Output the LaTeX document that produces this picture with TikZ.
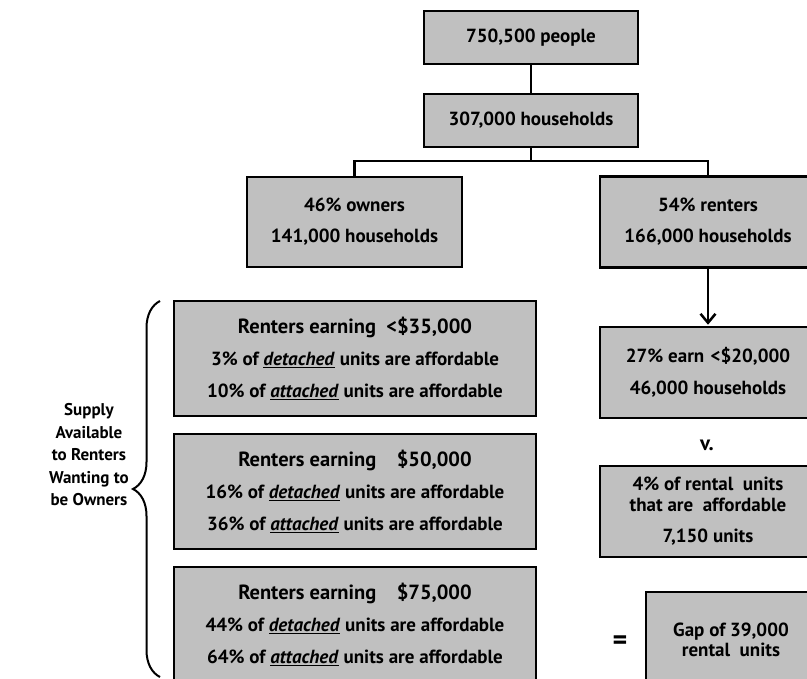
\documentclass[tikz,border=0pt]{standalone}
\usepackage{fontspec}
\setmainfont{PT Sans}
\usetikzlibrary{arrows.meta,decorations.pathreplacing}
\definecolor{boxgray}{HTML}{C0C0C0}
\newcommand{\undit}[1]{\underline{\textit{#1}}}
\newcommand{\boxfont}{\fontsize{19}{23}\selectfont\bfseries}
\newcommand{\titlefont}{\fontsize{20.5}{23}\selectfont}
\tikzset{
  box/.style={draw, line width=2.5pt, fill=boxgray, align=center, inner sep=0pt, font=\boxfont},
  wide/.style={box, minimum width=362pt, minimum height=115pt},
  side/.style={box, minimum width=216pt, minimum height=91pt},
  link/.style={line width=2.5pt},
}
\begin{document}
\begin{tikzpicture}[x=1pt,y=-1pt]
\clip (0,0) rectangle (807,679);
\node[box, minimum width=214pt, minimum height=53pt] (people) at (531,37.5) {750,500 people};
\node[box, minimum width=214pt, minimum height=53pt] (hh) at (531,120.5) {307,000 households};
\node[box, minimum width=215pt, minimum height=90pt] (owners) at (354.5,222) {46\% owners\\[8pt]141,000 households};
\node[side] (renters) at (708,222) {54\% renters\\[8pt]166,000 households};
\node[side] (low) at (708,372.5) {27\% earn\,\,<\$20,000\\[9pt]46,000 households};
\node[font=\fontsize{21}{23}\selectfont\bfseries] (vs) at (707,445) {v.};
\node[side] (units) at (708,511.5) {4\% of rental\enspace units\\[-2pt]that are\enspace affordable\\[8pt]7,150 units};
\node[font=\fontsize{28}{28}\selectfont\bfseries] (eq) at (620,643) {=};
\node[box, minimum width=170pt, minimum height=96pt] (gap) at (731,640) {Gap of 39,000\\[-3pt]rental\enspace units};

\node[wide] (r35) at (355,358.5) {{\titlefont Renters earning\enspace<\$35,000}\\[9pt]3\% of \undit{detached} units are affordable\\[9pt]10\% of \undit{attached} units are affordable};
\node[wide] (r50) at (355,491.5) {{\titlefont Renters earning\quad\$50,000}\\[9pt]16\% of \undit{detached} units are affordable\\[9pt]36\% of \undit{attached} units are affordable};
\node[wide] (r75) at (355,624.5) {{\titlefont Renters earning\quad\$75,000}\\[9pt]44\% of \undit{detached} units are affordable\\[9pt]64\% of \undit{attached} units are affordable};

\node[font=\fontsize{17}{22.5}\selectfont\bfseries, align=center] (supply) at (89,455) {Supply\\Available\\to Renters\\Wanting to\\be Owners};

\draw[link] (people) to (hh);
\draw[link] (hh.south) -- ++(0,13) -| (owners.north);
\draw[link] (hh.south) -- ++(0,13) -| (renters.north);
\draw[link, -{Straight Barb[length=9pt,width=15pt]}, shorten >=1pt] (renters) to (low);

\coordinate (braceTop) at (160,301);
\coordinate (braceBot) at (160,677);
\draw[line width=2pt, decorate, decoration={brace, amplitude=27pt}] (braceBot) -- (braceTop);
\end{tikzpicture}
\end{document}
